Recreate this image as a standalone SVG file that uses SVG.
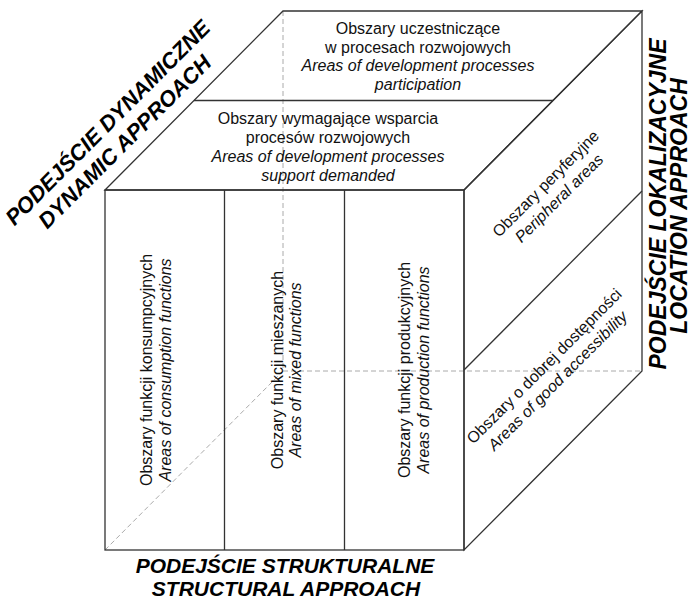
<svg xmlns="http://www.w3.org/2000/svg" width="693" height="600" viewBox="0 0 693 600">
<style>
  .edge { fill: none; stroke: #333; stroke-width: 1.3; }
  .hidden { fill: none; stroke: #aaa; stroke-width: 1; stroke-dasharray: 5 3; }
  .t { font-family: "Liberation Sans", Arial, sans-serif; font-size: 16px; fill: #111; text-anchor: middle; }
  .i { font-style: italic; }
  .lab { font-family: "Liberation Sans", Arial, sans-serif; font-weight: bold; font-style: italic; fill: #000; text-anchor: middle; }
</style>
<rect width="693" height="600" fill="#fff"/>

<g id="hidden-edges">
  <line class="hidden" x1="283" y1="11" x2="283" y2="371"/>
  <line class="hidden" x1="283" y1="371" x2="642" y2="371"/>
  <line class="hidden" x1="105" y1="550" x2="283" y2="371"/>
</g>

<g id="connectors">
  <polygon class="edge" points="105,190 283,11 642,11 464,190"/>
  <polygon class="edge" points="464,190 642,11 642,371 464,550"/>
  <rect class="edge" x="105" y="190" width="359" height="360"/>
</g>

<g id="top-back">
  <text class="t" x="418" y="33.5">Obszary uczestniczące</text>
  <text class="t" x="418" y="52.5">w procesach rozwojowych</text>
  <text class="t i" x="418" y="71">Areas of development processes</text>
  <text class="t i" x="418" y="89.5">participation</text>
</g>

<g id="top-front">
  <line class="edge" x1="194" y1="100.5" x2="553" y2="100.5"/>
  <text class="t" x="328" y="124">Obszary wymagające wsparcia</text>
  <text class="t" x="328" y="143">procesów rozwojowych</text>
  <text class="t i" x="328" y="162">Areas of development processes</text>
  <text class="t i" x="328" y="181">support demanded</text>
</g>

<g id="col-consumption">
  <text class="t" transform="translate(152,370) rotate(-90)">Obszary funkcji konsumpcyjnych</text>
  <text class="t i" transform="translate(171,370) rotate(-90)">Areas of consumption functions</text>
</g>

<g id="col-mixed">
  <line class="edge" x1="224.5" y1="190" x2="224.5" y2="550"/>
  <text class="t" transform="translate(283,370) rotate(-90)">Obszary funkcji mieszanych</text>
  <text class="t i" transform="translate(301,370) rotate(-90)">Areas of mixed functions</text>
</g>

<g id="col-production">
  <line class="edge" x1="344.5" y1="190" x2="344.5" y2="550"/>
  <text class="t" transform="translate(410,370) rotate(-90)">Obszary funkcji produkcyjnych</text>
  <text class="t i" transform="translate(429,370) rotate(-90)">Areas of production functions</text>
</g>

<g id="right-peripheral">
  <text class="t" transform="translate(549.5,187.5) rotate(-45)">Obszary peryferyjne</text>
  <text class="t i" transform="translate(563,202) rotate(-45)">Peripheral areas</text>
</g>

<g id="right-accessible">
  <line class="edge" x1="464" y1="370" x2="642" y2="191"/>
  <text class="t" transform="translate(548,370) rotate(-45)">Obszary o dobrej dostępności</text>
  <text class="t i" transform="translate(561.5,384.5) rotate(-45)">Areas of good accessibility</text>
</g>

<g id="label-dynamic">
  <text class="lab" font-size="22" transform="translate(113,128) rotate(-45)">PODEJŚCIE DYNAMICZNE</text>
  <text class="lab" font-size="22" transform="translate(130,147) rotate(-45)">DYNAMIC APPROACH</text>
</g>

<g id="label-location">
  <text class="lab" font-size="23" transform="translate(666,204) rotate(-90)">PODEJŚCIE LOKALIZACYJNE</text>
  <text class="lab" font-size="23" transform="translate(687,206) rotate(-90)">LOCATION APPROACH</text>
</g>

<g id="label-structural">
  <text class="lab" font-size="21" x="285" y="572.5">PODEJŚCIE STRUKTURALNE</text>
  <text class="lab" font-size="21" x="286" y="596">STRUCTURAL APPROACH</text>
</g>
</svg>
